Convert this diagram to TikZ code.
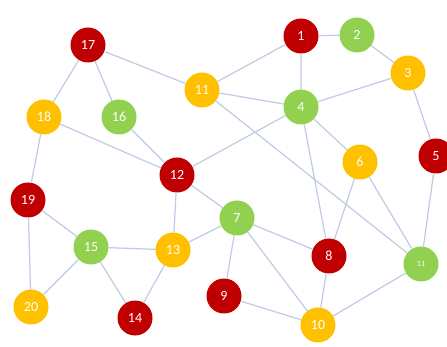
\documentclass[tikz,border=0pt]{standalone}
\usepackage{fontspec}
\setmainfont{Carlito}
\definecolor{nred}{HTML}{C00000}
\definecolor{ngreen}{HTML}{92D050}
\definecolor{nyellow}{HTML}{FFC000}
\definecolor{edgec}{HTML}{BDCBE4}
\tikzset{
  vtx/.style={circle, minimum size=35pt, inner sep=0pt, text=white, font=\fontsize{14}{14}\selectfont},
  rv/.style={vtx, fill=nred},
  gv/.style={vtx, fill=ngreen},
  yv/.style={vtx, fill=nyellow},
  edge/.style={draw=edgec, line width=1.2pt}
}
\begin{document}
\begin{tikzpicture}[x=1pt,y=-1pt]
\useasboundingbox (0,0) rectangle (447,347);
\node[rv] (n17) at (88,45) {17};
\node[yv] (n11) at (202,90) {11};
\node[yv] (n18) at (44,117) {18};
\node[gv] (n16) at (119,117) {16};
\node[rv] (n12) at (177,175) {12};
\node[rv] (n1) at (301,36) {1};
\node[gv] (n2) at (357,35) {2};
\node[yv] (n3) at (408,73) {3};
\node[gv] (n4) at (301,107) {4};
\node[yv] (n6) at (360,162) {6};
\node[rv] (n5) at (436,156) {5};
\node[rv] (n19) at (28,200) {19};
\node[gv] (n15) at (91,247) {15};
\node[yv] (n13) at (173,250) {13};
\node[rv] (n14) at (135,318) {14};
\node[yv] (n20) at (31,307) {20};
\node[gv] (n7) at (237,218) {7};
\node[rv] (n8) at (329,256) {8};
\node[gv, font=\fontsize{8}{8}\selectfont] (n11r) at (421,264) {11};
\node[rv] (n9) at (224,296) {9};
\node[yv] (n10) at (318,325) {10};
\path[edge]
 (n17) -- (n11) (n17) -- (n18) (n17) -- (n16)
 (n11) -- (n1) (n11) -- (n4) (n11) -- (n11r)
 (n18) -- (n12) (n16) -- (n12) (n12) -- (n4)
 (n18) -- (n19) (n19) -- (n15) (n19) -- (n20)
 (n15) -- (n13) (n15) -- (n20) (n15) -- (n14)
 (n13) -- (n12) (n13) -- (n14) (n13) -- (n7)
 (n12) -- (n7) (n7) -- (n8) (n7) -- (n9) (n7) -- (n10)
 (n8) -- (n10) (n8) -- (n4) (n8) -- (n6)
 (n9) -- (n10) (n10) -- (n11r) (n6) -- (n11r) (n6) -- (n4)
 (n5) -- (n11r) (n4) -- (n1) (n4) -- (n3)
 (n1) -- (n2) (n2) -- (n3) (n3) -- (n5);
\end{tikzpicture}
\end{document}
